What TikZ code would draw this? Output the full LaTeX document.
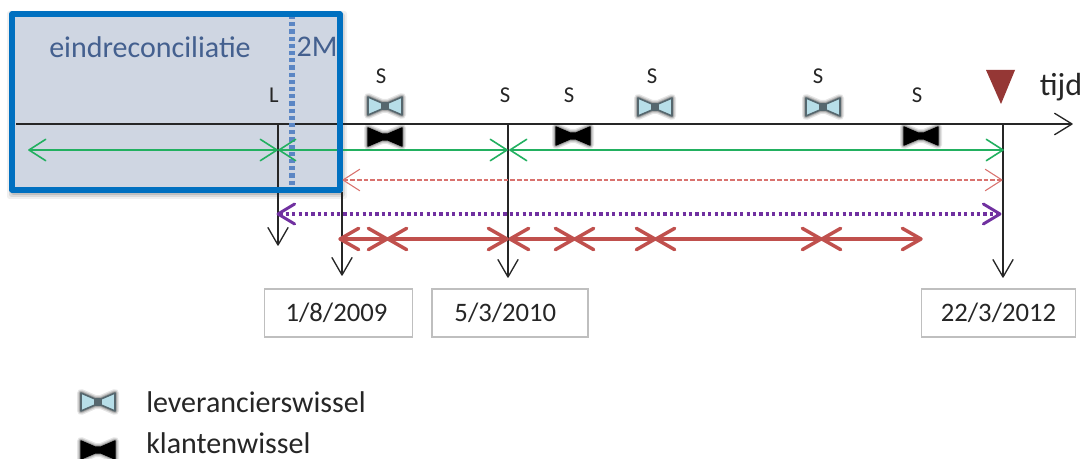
\documentclass[tikz,border=0pt]{standalone}
\usepackage{fontspec}
\setmainfont{Carlito}
\usetikzlibrary{arrows.meta}
\pgfdeclarearrow{
  name=MyVee,
  parameters={\the\pgfarrowlength,\the\pgfarrowwidth,\the\pgflinewidth},
  defaults={length=10pt,width=14pt},
  setup code={
    \pgfarrowssettipend{0pt}
    \pgfarrowssetbackend{-\pgfarrowlength}
    \pgfarrowssetlineend{-0.5\pgflinewidth}
    \pgfarrowssetvisualbackend{-\pgfarrowlength}
    \pgfarrowssavethe\pgfarrowlength
    \pgfarrowssavethe\pgfarrowwidth
  },
  drawing code={
    \pgfsetdash{}{0pt}
    \pgfsetroundcap
    \pgfsetroundjoin
    \pgfpathmoveto{\pgfpoint{-\pgfarrowlength}{0.5\pgfarrowwidth}}
    \pgfpathlineto{\pgfpointorigin}
    \pgfpathlineto{\pgfpoint{-\pgfarrowlength}{-0.5\pgfarrowwidth}}
    \pgfusepathqstroke
  }
}
\definecolor{boxblue}{HTML}{0070C0}
\definecolor{boxfill}{HTML}{CFD6E2}
\definecolor{dotblue}{HTML}{5B86C4}
\definecolor{lblblue}{HTML}{44608F}
\definecolor{grn}{HTML}{22B060}
\definecolor{pinkred}{HTML}{D9726E}
\definecolor{purp}{HTML}{7030A0}
\definecolor{redd}{HTML}{C0504D}
\definecolor{tri}{HTML}{953735}
\definecolor{tiefill}{HTML}{B7DEE8}
\definecolor{tieline}{HTML}{56676E}
\definecolor{datebox}{HTML}{BFBFBF}
\tikzset{
  x=0.75pt,y=-0.75pt,
  axisline/.style={draw=black!85,line width=1pt},
  dropline/.style={axisline,{MyVee[length=13pt,width=15pt]}-},
  greenarrow/.style={grn,line width=1.2pt,{MyVee[length=12.5pt,width=16pt]}-{MyVee[length=12.5pt,width=16pt]},
    postaction={draw=grn,arrows=-,line width=1.3pt,shorten <=1pt,shorten >=1pt}},
  pinkarrow/.style={pinkred,line width=0.8pt,densely dashed,{MyVee[length=12.5pt,width=16pt]}-{MyVee[length=12.5pt,width=16pt]},
    postaction={draw=pinkred,arrows=-,line width=0.9pt,densely dashed,shorten <=1pt,shorten >=1pt}},
  purpleline/.style={purp,line width=2.2pt,{MyVee[length=12.5pt,width=15pt]}-{MyVee[length=12.5pt,width=15pt]},dash pattern=on 2.4pt off 2.4pt,
    postaction={draw=purp,arrows=-,line width=2.4pt,dash pattern=on 2.4pt off 2.4pt,shorten <=1pt,shorten >=1pt}},
  redarrow/.style={redd,line width=2.6pt,{MyVee[length=14pt,width=16pt]}-{MyVee[length=14pt,width=16pt]},
    postaction={draw=redd,arrows=-,line width=2.6pt,shorten <=1pt,shorten >=1pt}},
  datenode/.style={draw=datebox,line width=0.9pt,fill=white,minimum height=36pt,inner sep=0pt,font=\fontsize{20}{22}\selectfont,text=black!85},
  slabel/.style={font=\fontsize{17}{20}\selectfont,text=black!85,inner sep=0pt},
  legendlabel/.style={font=\fontsize{22.5}{25}\selectfont,text=black!85,inner sep=0pt,anchor=west},
  boxlabel/.style={font=\fontsize{22.5}{25}\selectfont,text=lblblue,inner sep=0pt},
}
\newcommand{\tiepath}{(-17,-9) -- (-3,-3) -- (3,-3) -- (17,-9) -- (17,9) -- (3,3) -- (-3,3) -- (-17,9) -- cycle}
\newcommand{\mytie}[3]{% x, y, fill
  \begin{scope}[shift={(#1,#2)}]
    \foreach \o/\w in {0.10/6,0.15/4,0.2/2.4}{
      \draw[black,opacity=\o,line width=\w pt,line join=round] \tiepath;
    }
    \filldraw[fill=#3,draw=tieline,line width=1.2pt,line join=round] \tiepath;
    \fill[tieline] (-4,-3) rectangle (4,3);
  \end{scope}
}
\newcommand{\mytieb}[2]{% x, y
  \begin{scope}[shift={(#1,#2)}]
    \foreach \o/\w in {0.10/6,0.15/4,0.2/2.4}{
      \draw[black,opacity=\o,line width=\w pt,line join=round] \tiepath;
    }
    \filldraw[fill=black,draw=black,line width=1pt,line join=round] \tiepath;
  \end{scope}
}
\begin{document}
\begin{tikzpicture}
\useasboundingbox (0,0) rectangle (1087,459);
\fill[white] (0,0) rectangle (1087,459);
% shadow of the box
\foreach \o/\e in {0.06/5,0.09/3,0.12/1}{
  \fill[black,opacity=\o,rounded corners=2pt] (12-\e,16-\e) rectangle (342+\e,194+\e);
}
\fill[boxfill] (12,14) rectangle (340,190);
\coordinate (axL) at (16,124);
\coordinate (axR) at (1072,124);
\coordinate (dotT) at (292,15);
\coordinate (dotB) at (292,188);
\coordinate (tL) at (278,124);
\coordinate (tLb) at (278,245);
\coordinate (t0) at (342,192);
\coordinate (t0b) at (342,275);
\coordinate (tS) at (508,124);
\coordinate (tSb) at (508,277);
\coordinate (tE) at (1003,124);
\coordinate (tEb) at (1003,277);
\draw[axisline,-{MyVee[length=13pt,width=16pt]},postaction={draw=black!85,arrows=-,line width=1.2pt,shorten >=1pt}] (axL) -- (axR);
\draw[dropline] (tLb) -- (tL);
\draw[dropline] (t0b) -- (t0);
\draw[dropline] (tSb) -- (tS);
\draw[dropline] (tEb) -- (tE);
\draw[dotblue,line width=4pt,dash pattern=on 3.2pt off 2.2pt] (dotT) -- (dotB);
% green
\coordinate (g0) at (29,150);
\coordinate (g1) at (277,150);
\coordinate (g2) at (279,150);
\coordinate (g3) at (507,150);
\coordinate (g4) at (510,150);
\coordinate (g5) at (1003,150);
\draw[greenarrow] (g0) -- (g1);
\draw[greenarrow] (g2) -- (g3);
\draw[greenarrow] (g4) -- (g5);
% box border on top
\draw[boxblue,line width=3.9pt,line join=round] (12,14) rectangle (340,190);
% pink, purple
\coordinate (p0) at (343,180);
\coordinate (p1) at (1002,180);
\draw[pinkarrow] (p0) -- (p1);
\coordinate (v0) at (278,214);
\coordinate (v1) at (1000,214);
\draw[purpleline] (v0) -- (v1);
% red
\coordinate (r0) at (340,239);
\coordinate (r1) at (387,239);
\coordinate (r2) at (388,239);
\coordinate (r3) at (507,239);
\coordinate (r4) at (510,239);
\coordinate (r5) at (574,239);
\coordinate (r6) at (575,239);
\coordinate (r7) at (655,239);
\coordinate (r8) at (656,239);
\coordinate (r9) at (821,239);
\coordinate (r10) at (822,239);
\coordinate (r11) at (921,239);
\draw[redarrow] (r0) -- (r1);
\draw[redarrow] (r2) -- (r3);
\draw[redarrow] (r4) -- (r5);
\draw[redarrow] (r6) -- (r7);
\draw[redarrow] (r8) -- (r9);
\draw[redarrow] (r10) -- (r11);
% ties
\mytie{385}{106}{tiefill}
\mytieb{385}{137}
\mytieb{573}{136}
\mytie{655}{107}{tiefill}
\mytie{823}{107}{tiefill}
\mytieb{921}{136}
\mytie{98}{402}{tiefill}
\mytieb{98}{450}
% triangle
\fill[tri,line join=round] (986,70) -- (1015,70) -- (1001,104) -- cycle;
% labels
\node[boxlabel] (er) at (150,47) {eindreconciliatie};
\node[boxlabel] (tm) at (317,47) {2M};
\node[slabel] (lL) at (274,95) {L};
\node[slabel] (s1) at (381,76) {S};
\node[slabel] (s2) at (505,95) {S};
\node[slabel] (s3) at (569,95) {S};
\node[slabel] (s4) at (652,76) {S};
\node[slabel] (s5) at (818,76) {S};
\node[slabel] (s6) at (917,95) {S};
\node[font=\fontsize{24}{26}\selectfont,text=black!85,inner sep=0pt] (tijd) at (1061,87) {tijd};
\node[datenode,minimum width=111pt] (d1) at (338.5,313) {1/8/2009\kern3pt};
\node[datenode,minimum width=117pt] (d2) at (510,313) {5/3/2010\kern7pt};
\node[datenode,minimum width=116pt] (d3) at (998.5,313) {22/3/2012};
\node[legendlabel] (ll) at (146,402) {leverancierswissel};
\node[legendlabel] (lk) at (146,443.5) {klantenwissel};
\end{tikzpicture}
\end{document}
